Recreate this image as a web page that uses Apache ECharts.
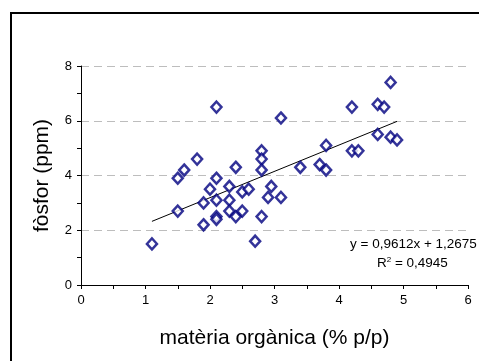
<!DOCTYPE html>
<html><head><meta charset="utf-8">
<script src="https://cdn.jsdelivr.net/npm/echarts@6/dist/echarts.min.js"></script>
<style>html,body{margin:0;padding:0;background:#fff}#c{width:479px;height:361px}</style>
</head><body><div id="c"></div>
<script>
const organicMatter = [1.1,1.5,1.5,1.6,1.8,1.9,1.9,2.0,2.1,2.1,2.1,2.1,2.1,2.3,2.3,2.3,2.4,2.4,2.5,2.5,2.6,2.8,2.8,2.8,2.8,2.7,2.95,2.9,3.1,3.1,3.4,3.7,3.8,3.8,4.2,4.2,4.3,4.6,4.7,4.6,4.8,4.8,4.9];
const phosphorus   = [1.5,2.7,3.9,4.2,4.6,2.2,3.0,3.5,6.5,3.9,3.1,2.5,2.4,3.6,3.1,2.7,4.3,2.5,3.4,2.7,3.5,4.9,4.6,4.2,2.5,1.6,3.6,3.2,3.2,6.1,4.3,4.4,4.2,5.1,6.5,4.9,4.9,6.6,6.5,5.5,7.4,5.4,5.3];
const trendSlope = 0.9612, trendIntercept = 1.2675, trendR2 = 0.4945;
const trendRange = [1.1, 4.9];
const xTicks = [0,1,2,3,4,5,6];
const yTicks = [0,2,4,6,8];
const xTitle = 'matèria orgànica (% p/p)';
const yTitle = 'fòsfor (ppm)';
const fmt = v => v.toFixed(4).replace('.', ',');

const points = organicMatter.map((x,i)=>[x, phosphorus[i]]);
const trend = trendRange.map(x=>[x, trendSlope*x + trendIntercept]);

const chart = echarts.init(document.getElementById('c'));
const F = 'Liberation Sans, Arial, sans-serif';
chart.setOption({
  animation:false,
  textStyle:{fontFamily:F},
  grid:{left:81,right:11,top:66,bottom:76},
  xAxis:{type:'value',min:xTicks[0],max:xTicks[xTicks.length-1],interval:1,
    name:xTitle,nameLocation:'middle',nameGap:43,
    nameTextStyle:{fontSize:21,color:'#000',fontFamily:F},
    axisLine:{lineStyle:{color:'#000',width:1}},
    axisTick:{show:true,length:4,lineStyle:{color:'#000'}},
    minorTick:{show:true,splitNumber:2,length:4,lineStyle:{color:'#000'}},
    axisLabel:{fontSize:13,color:'#000',margin:9},
    splitLine:{show:false}},
  yAxis:{type:'value',min:yTicks[0],max:yTicks[yTicks.length-1],interval:2,
    name:yTitle,nameLocation:'middle',nameGap:28,
    nameTextStyle:{fontSize:21,color:'#000',fontFamily:F},
    axisLine:{show:true,lineStyle:{color:'#000',width:1}},
    axisTick:{show:true,length:4,lineStyle:{color:'#000'}},
    minorTick:{show:true,splitNumber:2,length:4,lineStyle:{color:'#000'}},
    axisLabel:{fontSize:13,color:'#000',margin:9},
    splitLine:{show:true,lineStyle:{color:'#bdbdbd',type:[8,5],width:1}}},
  graphic:{elements:[
    {type:'rect',z:100,silent:true,shape:{x:10,y:12,width:2,height:349},style:{fill:'#000'}},
    {type:'rect',z:100,silent:true,shape:{x:10,y:12,width:469,height:2},style:{fill:'#000'}},
    {type:'text',z:100,x:350,y:237,style:{text:'y = '+fmt(trendSlope)+'x + '+fmt(trendIntercept),fontSize:13.5,fill:'#000',fontFamily:F}},
    {type:'text',z:100,x:377,y:256,style:{text:'{a|R}{s|2}{a| = '+fmt(trendR2)+'}',fontFamily:F,
      rich:{a:{fontSize:13.5,fill:'#000',fontFamily:F},s:{fontSize:8,fill:'#000',fontFamily:F,verticalAlign:'top',padding:[0,0,7,0]}}}}
  ]},
  series:[
    {type:'scatter',data:points,symbol:'diamond',symbolSize:[10,11],
      itemStyle:{color:'#fff',borderColor:'#000080',borderWidth:2.5},z:3},
    {type:'line',data:trend,symbol:'none',lineStyle:{color:'#000',width:1},z:2}
  ]
});
</script></body></html>
